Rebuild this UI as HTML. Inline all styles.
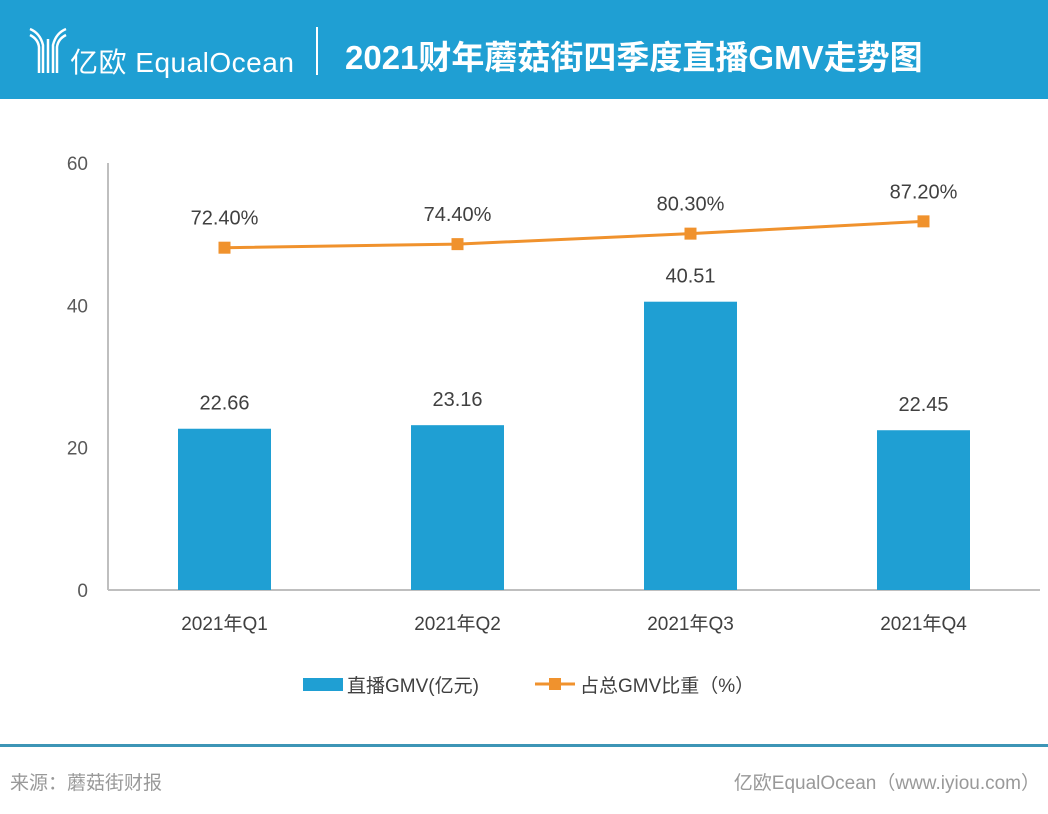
<!DOCTYPE html>
<html><head><meta charset="utf-8">
<style>
body{margin:0;width:1048px;height:814px;background:#fff;font-family:"Liberation Sans","Noto Sans CJK SC",sans-serif;position:relative;overflow:hidden}
#hdr{position:absolute;left:0;top:0;width:1048px;height:99px;background:#1f9fd3}
.t{position:absolute;white-space:nowrap}
</style></head><body>
<div id="hdr">
<svg class="t" style="left:28px;top:25px" width="40" height="50">
<path d="M2 4 Q12 8 15 20 L15 48 M2 10 Q10 14 11 22 L11 48 M38 4 Q28 8 25 20 L25 48 M38 10 Q30 14 29 22 L29 48 M20 14 L20 48" stroke="#fff" stroke-width="2.5" fill="none"/>
</svg>
<div class="t" style="left:70px;top:41px;color:#fff;font-size:28px;letter-spacing:0.5px">亿欧 EqualOcean</div>
<div class="t" style="left:316px;top:27px;width:2px;height:48px;background:#fff"></div>
<div class="t" style="left:345px;top:31px;color:#fff;font-size:33px;font-weight:bold">2021财年蘑菇街四季度直播GMV走势图</div>
</div>
<svg id="chart" class="t" style="left:0;top:0" width="1048" height="720"></svg>
<div class="t" style="left:0;top:744px;width:1048px;height:3px;background:#3d95b6"></div>
<div class="t" style="left:10px;top:768px;color:#999;font-size:19px">来源：蘑菇街财报</div>
<div class="t" style="right:8px;top:768px;color:#999;font-size:19px">亿欧EqualOcean（www.iyiou.com）</div>
<script>
const categories=["2021年Q1","2021年Q2","2021年Q3","2021年Q4"];
const gmv=[22.66,23.16,40.51,22.45];
const share=[72.40,74.40,80.30,87.20];
const yTicks=[0,20,40,60];
const svg=document.getElementById('chart');
const NS='http://www.w3.org/2000/svg';
const X0=108,X1=1040,Y0=590,Y1=163;
const y=v=>Y0-(v/60)*(Y0-Y1);
const y2=v=>Y0-((v+120)/240)*(Y0-Y1);
const bw=(X1-X0)/categories.length;
const cx=i=>X0+bw*(i+0.5);
function mk(t,a,txt){const e=document.createElementNS(NS,t);for(const k in a)e.setAttribute(k,a[k]);if(txt!==undefined)e.textContent=txt;svg.appendChild(e);return e;}
let e;
e=mk('line',{x1:X0,y1:Y1,x2:X0,y2:Y0,stroke:'#bfbfbf','stroke-width':2});

e=mk('line',{x1:X0,y1:Y0,x2:X1,y2:Y0,stroke:'#bfbfbf','stroke-width':2});

yTicks.forEach(v=>{e=mk('text',{x:88,y:y(v)+7,'text-anchor':'end','font-size':19,fill:'#595959'},v);
});
gmv.forEach((v,i)=>{
e=mk('rect',{x:cx(i)-46.5,y:y(v),width:93,height:Y0-y(v),fill:'#1f9fd3'});

e=mk('text',{x:cx(i),y:y(v)-19,'text-anchor':'middle','font-size':20,fill:'#404040'},v.toFixed(2));

e=mk('text',{x:cx(i),y:630,'text-anchor':'middle','font-size':19,fill:'#404040'},categories[i]);

});
e=mk('polyline',{points:share.map((v,i)=>cx(i)+','+y2(v)).join(' '),fill:'none',stroke:'#f0922d','stroke-width':3});

share.forEach((v,i)=>{
e=mk('rect',{x:cx(i)-6,y:y2(v)-6,width:12,height:12,fill:'#f0922d'});

e=mk('text',{x:cx(i),y:y2(v)-23,'text-anchor':'middle','font-size':20,fill:'#404040'},v.toFixed(2)+'%');

});
e=mk('rect',{x:303,y:678,width:40,height:13,fill:'#1f9fd3'});

e=mk('text',{x:347,y:692,'font-size':19,fill:'#404040'},'直播GMV(亿元)');

e=mk('line',{x1:535,y1:684,x2:575,y2:684,stroke:'#f0922d','stroke-width':3});

e=mk('rect',{x:549,y:678,width:12,height:12,fill:'#f0922d'});

e=mk('text',{x:580,y:692,'font-size':19,fill:'#404040'},'占总GMV比重（%）');

</script>
</body></html>
